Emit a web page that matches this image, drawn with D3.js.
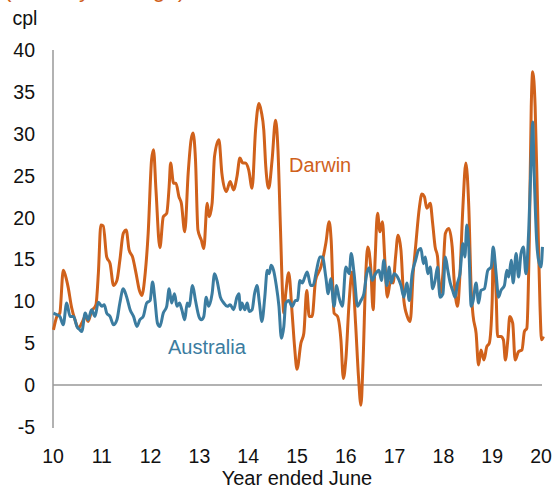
<!DOCTYPE html>
<html><head><meta charset="utf-8">
<script src="https://cdn.jsdelivr.net/npm/d3@7"></script>
<style>
html,body{margin:0;padding:0;background:#fff;}
svg{display:block;font-family:"Liberation Sans",Arial,sans-serif;}
</style></head>
<body>
<svg id="chart" width="555" height="488"></svg>
<script>
const subtitle = "(monthly average)";
const unitLabel = "cpl";
const xTitle = "Year ended June";
const xTicks = [10,11,12,13,14,15,16,17,18,19,20];
const yTicks = [-5,0,5,10,15,20,25,30,35,40];
const seriesNames = ["Darwin","Australia"];

const darwinT = [10.01,10.08,10.14,10.21,10.28,10.31,10.38,10.45,10.52,10.59,10.66,10.72,10.79,10.88,10.93,10.98,11.03,11.10,11.17,11.24,11.31,11.37,11.44,11.50,11.56,11.63,11.70,11.77,11.82,11.89,11.95,12.02,12.06,12.11,12.19,12.26,12.33,12.38,12.41,12.47,12.52,12.58,12.63,12.70,12.77,12.83,12.87,12.92,12.97,13.04,13.09,13.16,13.20,13.26,13.31,13.40,13.46,13.55,13.63,13.70,13.77,13.83,13.89,13.94,14.01,14.08,14.15,14.22,14.27,14.32,14.36,14.42,14.49,14.56,14.61,14.66,14.71,14.73,14.77,14.83,14.90,14.95,15.00,15.08,15.14,15.20,15.25,15.31,15.38,15.49,15.59,15.66,15.70,15.76,15.83,15.90,15.95,16.00,16.07,16.13,16.20,16.26,16.31,16.35,16.41,16.45,16.51,16.56,16.60,16.65,16.70,16.75,16.80,16.85,16.92,16.97,17.02,17.07,17.13,17.19,17.26,17.32,17.38,17.43,17.51,17.56,17.61,17.66,17.73,17.78,17.83,17.88,17.93,17.99,18.04,18.11,18.18,18.22,18.29,18.34,18.40,18.46,18.52,18.57,18.61,18.67,18.72,18.77,18.83,18.89,18.94,19.00,19.02,19.08,19.11,19.18,19.23,19.27,19.32,19.36,19.42,19.47,19.54,19.61,19.66,19.71,19.76,19.80,19.83,19.88,19.93,19.98,20.01,20.05];
const darwinV = [6.6,8.2,8.6,13.7,12.5,11.7,9.3,7.8,6.8,7.4,8.2,7.6,8.8,9.6,13.4,19.1,19.0,15.3,14.5,11.9,12.5,14.9,18.1,18.5,16.1,15.3,13.4,11.3,10.7,13.4,18.1,26.9,28.1,23.3,16.4,20.1,20.5,23.7,26.5,24.1,24.1,22.5,21.7,18.3,25.3,29.3,30.1,26.9,18.5,17.3,16.3,21.7,20.1,21.7,27.3,29.3,25.3,23.1,24.3,23.3,24.9,27.1,26.5,26.5,25.7,23.5,30.4,33.6,32.6,30.4,26.1,23.5,26.9,31.6,28.1,18.9,10.1,8.6,11.0,13.4,8.6,4.6,1.9,5.0,6.2,11.3,8.2,8.2,12.5,14.1,16.9,19.5,17.3,8.6,8.2,5.4,0.8,3.0,10.1,13.5,7.4,1.0,-2.4,2.2,13.3,16.5,14.1,9.0,14.9,20.5,18.3,19.5,14.9,10.5,12.5,12.2,15.3,17.9,16.1,10.1,8.2,7.6,13.3,16.5,21.3,22.8,22.5,21.1,21.7,19.3,16.5,15.3,10.9,13.3,18.1,18.7,16.5,12.5,9.4,13.3,21.3,26.5,21.3,11.3,8.2,6.2,2.4,4.2,3.0,4.6,5.0,10.1,15.7,10.9,5.8,5.8,5.4,3.0,5.4,8.2,7.4,3.0,4.0,4.2,6.4,6.8,17.3,33.2,37.4,33.2,21.3,9.4,5.4,5.8];

const australiaT = [10.01,10.08,10.14,10.21,10.28,10.35,10.42,10.49,10.55,10.59,10.66,10.72,10.79,10.86,10.93,11.00,11.05,11.10,11.17,11.24,11.31,11.37,11.44,11.51,11.58,11.65,11.72,11.78,11.85,11.92,11.99,12.04,12.09,12.14,12.19,12.26,12.33,12.38,12.43,12.49,12.54,12.59,12.64,12.70,12.75,12.79,12.86,12.92,12.99,13.04,13.09,13.14,13.19,13.26,13.31,13.36,13.43,13.50,13.57,13.63,13.70,13.77,13.81,13.84,13.87,13.93,13.98,14.02,14.08,14.13,14.18,14.23,14.28,14.34,14.39,14.43,14.47,14.52,14.57,14.63,14.68,14.73,14.77,14.83,14.90,14.97,15.01,15.06,15.11,15.16,15.21,15.28,15.33,15.40,15.47,15.52,15.59,15.64,15.69,15.76,15.81,15.86,15.93,16.00,16.07,16.11,16.17,16.24,16.31,16.37,16.43,16.48,16.54,16.61,16.68,16.73,16.78,16.84,16.89,16.93,16.99,17.06,17.13,17.19,17.25,17.30,17.36,17.43,17.49,17.54,17.59,17.63,17.68,17.73,17.78,17.83,17.88,17.93,17.99,18.04,18.09,18.14,18.19,18.24,18.29,18.34,18.40,18.44,18.48,18.52,18.57,18.61,18.67,18.72,18.77,18.84,18.91,18.98,19.02,19.08,19.13,19.18,19.25,19.30,19.34,19.39,19.43,19.49,19.54,19.59,19.64,19.69,19.75,19.80,19.83,19.86,19.91,19.95,20.00,20.03];
const australiaV = [8.6,8.4,8.2,7.2,9.8,8.2,8.2,7.0,6.6,6.4,8.6,7.8,9.0,8.2,9.9,9.4,9.6,8.6,8.2,7.2,7.8,9.8,11.5,10.5,9.0,8.2,7.0,7.8,8.2,9.8,10.1,12.3,10.1,7.4,7.0,8.6,9.4,11.5,9.8,10.9,9.4,9.8,9.0,7.8,9.8,9.4,11.9,10.1,8.2,7.8,8.2,10.5,9.4,10.9,13.3,12.5,10.5,9.8,9.4,9.6,9.0,10.5,10.9,9.0,9.8,9.0,9.8,8.8,9.0,10.9,11.9,9.8,7.6,10.5,13.7,13.3,14.3,13.7,12.1,9.4,5.6,7.0,9.8,10.1,9.4,10.1,10.1,12.5,12.2,12.9,13.5,11.9,11.9,13.7,15.3,15.3,12.9,10.9,12.7,9.4,11.9,10.5,9.4,14.1,13.3,15.7,13.3,9.4,10.1,10.9,13.3,14.0,12.5,13.3,13.7,12.5,14.9,11.9,14.1,12.2,13.3,12.9,11.9,10.5,12.2,10.1,13.3,14.9,16.1,16.3,14.5,15.3,13.3,14.1,11.5,12.5,14.1,10.5,10.9,15.3,13.7,12.2,11.3,10.5,12.2,13.3,16.9,15.3,19.1,16.5,9.4,10.1,12.2,9.8,11.3,11.5,13.7,14.1,16.5,13.3,10.5,11.3,11.9,13.7,12.9,14.9,12.2,15.7,12.9,15.7,16.5,13.3,18.7,27.3,31.4,25.3,17.3,14.9,14.1,16.5];

const colors = {Darwin:"#D0611B", Australia:"#3B7CA0"};
const ink = "#111";

const svg = d3.select("#chart");
const x = d3.scaleLinear().domain([10,20]).range([53,541]);
const y = d3.scaleLinear().domain([-5,40]).range([427,50]);

// subtitle (mostly above the top edge, as in the reference)
svg.append("text").attr("x",4).attr("y",-3).attr("font-size",22.5)
  .attr("fill",colors.Darwin).text(subtitle);

svg.append("text").attr("x",12.5).attr("y",25).attr("font-size",19.5).attr("fill",ink).text(unitLabel);

// y tick labels
svg.append("g").selectAll("text").data(yTicks).join("text")
  .attr("x",35).attr("y",d=>y(d)).attr("dy","0.36em")
  .attr("text-anchor","end").attr("font-size",19.5).attr("fill",ink).text(d=>d);

// x tick labels
svg.append("g").selectAll("text").data(xTicks).join("text")
  .attr("x",d=>x(d)).attr("y",463)
  .attr("text-anchor","middle").attr("font-size",19.5).attr("fill",ink).text(d=>d);

svg.append("text").attr("x",(x(10)+x(20))/2).attr("y",484.5).attr("text-anchor","middle")
  .attr("font-size",20).attr("fill",ink).text(xTitle);

// axes lines
svg.append("line").attr("x1",x(10)).attr("x2",x(10)).attr("y1",y(40)).attr("y2",y(-5)+1)
  .attr("stroke","#999").attr("stroke-width",1.5);
svg.append("line").attr("x1",x(10)).attr("x2",x(20)+1).attr("y1",y(0)).attr("y2",y(0))
  .attr("stroke","#999").attr("stroke-width",1.5);

const line = d3.line().x(d=>x(d[0])).y(d=>y(d[1])).curve(d3.curveMonotoneX);
const dData = d3.zip(darwinT, darwinV);
const aData = d3.zip(australiaT, australiaV);

svg.append("path").datum(dData).attr("d",line).attr("fill","none")
  .attr("stroke",colors.Darwin).attr("stroke-width",3).attr("stroke-linejoin","round");
svg.append("path").datum(aData).attr("d",line).attr("fill","none")
  .attr("stroke",colors.Australia).attr("stroke-width",3).attr("stroke-linejoin","round");

svg.append("text").attr("x",289).attr("y",171.5).attr("font-size",20).attr("fill",colors.Darwin).text(seriesNames[0]);
svg.append("text").attr("x",168).attr("y",354).attr("font-size",20).attr("fill",colors.Australia).text(seriesNames[1]);
</script>
</body></html>
